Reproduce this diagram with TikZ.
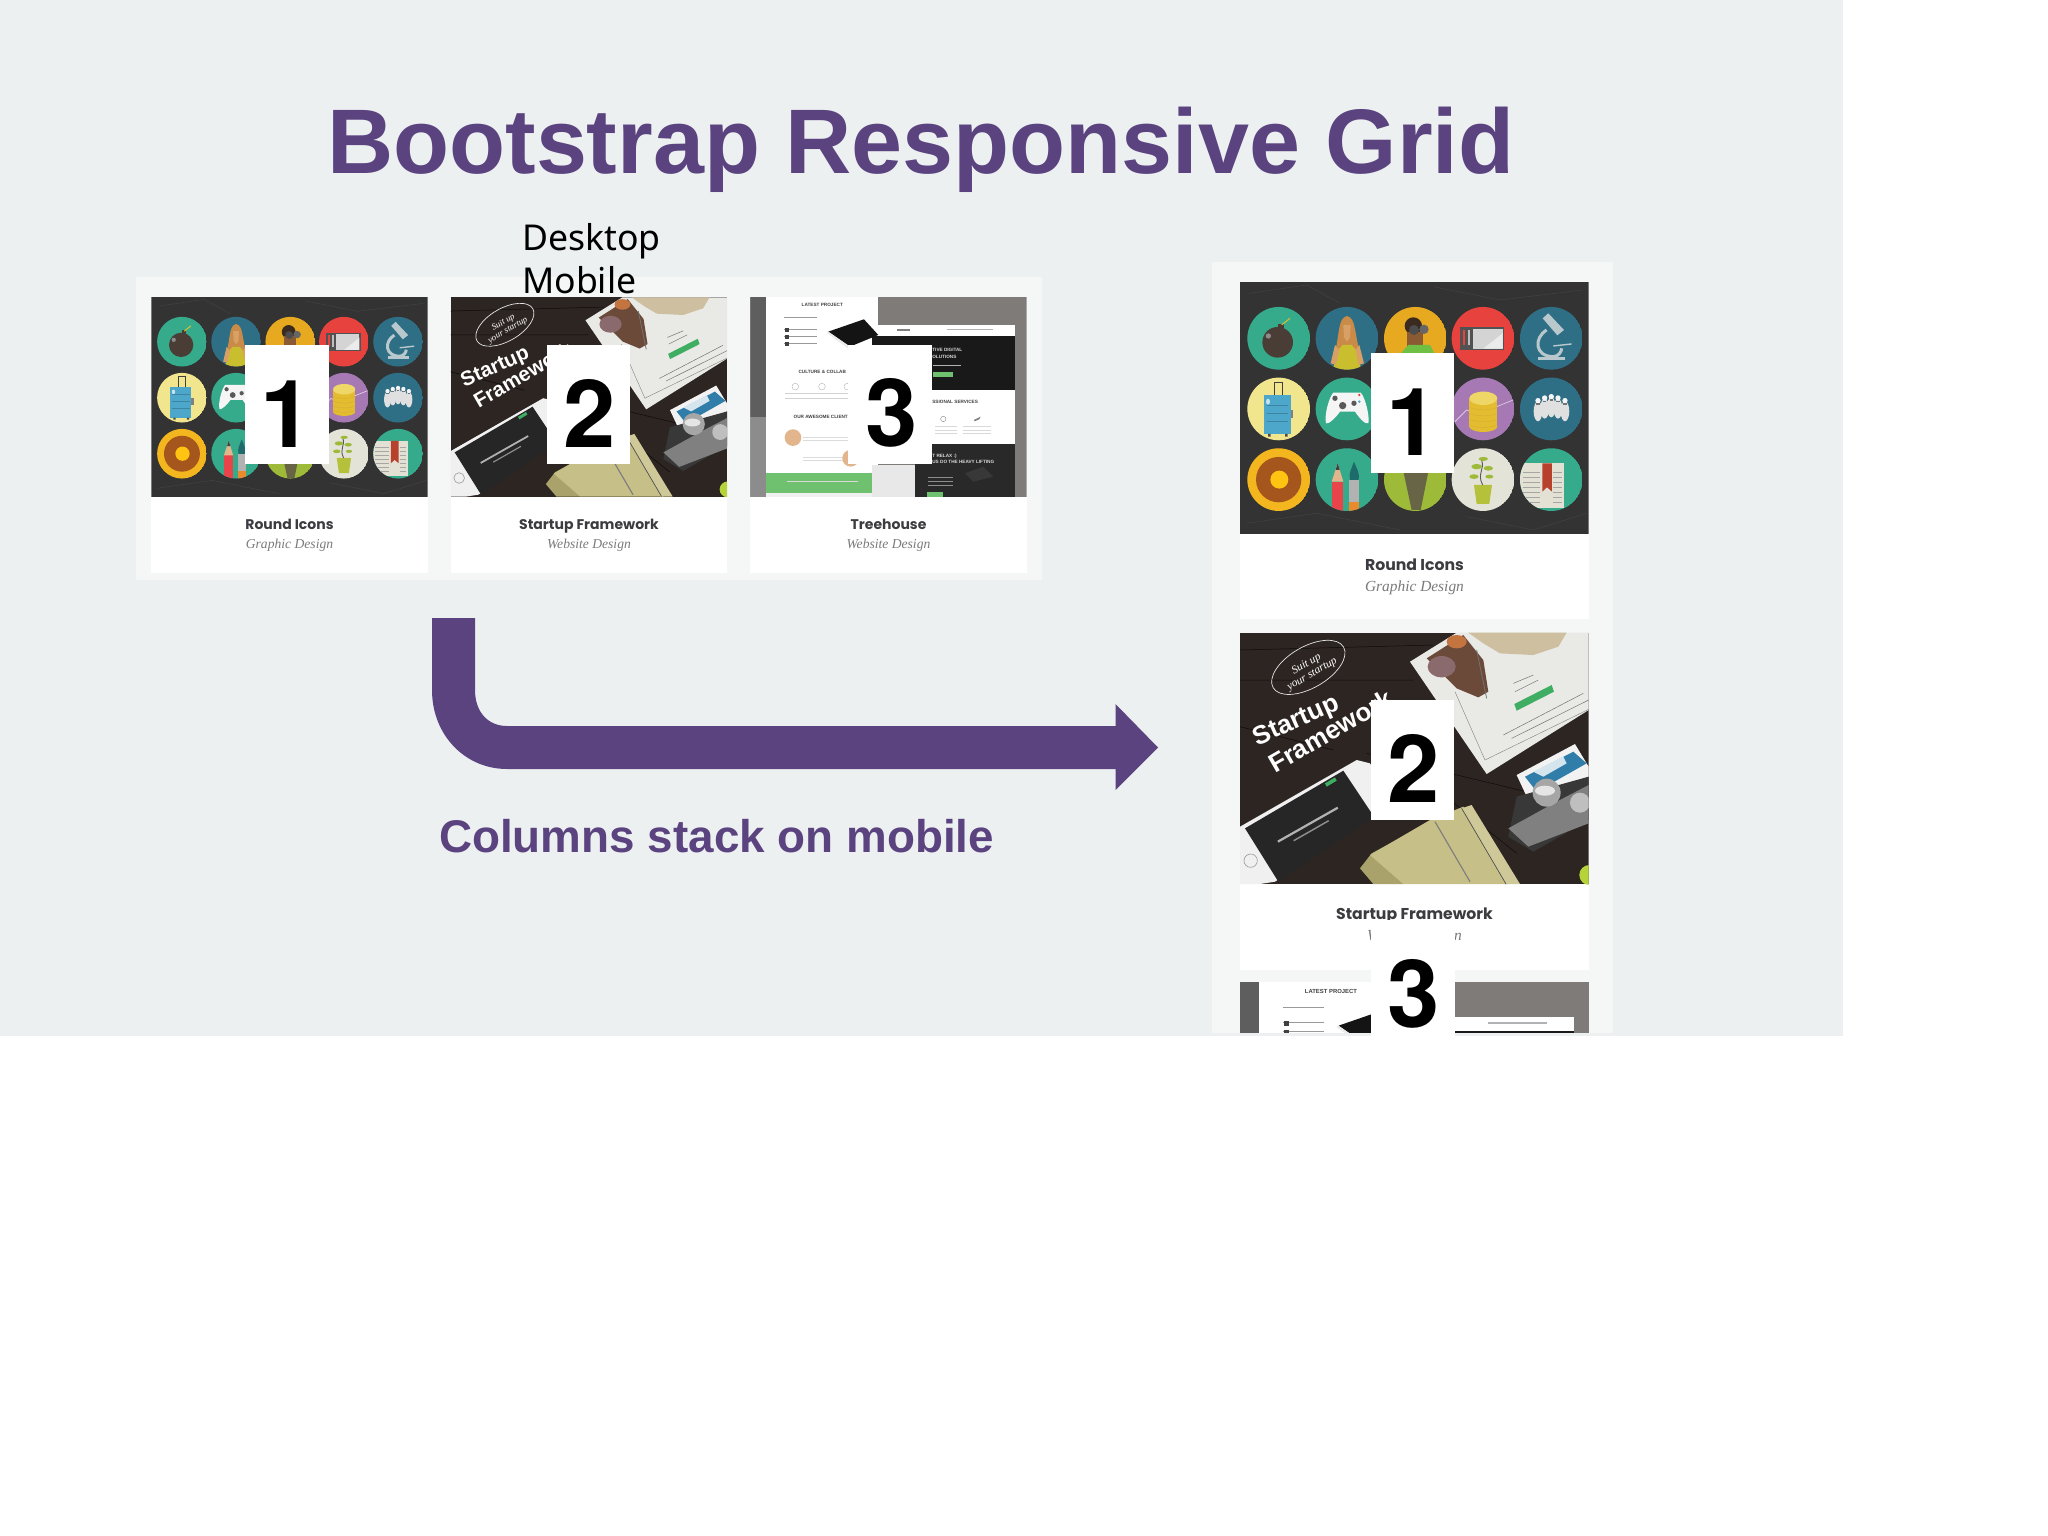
\documentclass[tikz,border=0pt]{standalone}
\usepackage{fontspec}
\setmainfont{Liberation Sans}
\newfontfamily\notof{Noto Sans}
\newfontfamily\popf{Poppins}
\newfontfamily\serf{Liberation Serif}
\newfontfamily\digf{TeX Gyre Heros}
\definecolor{slide}{HTML}{ECF0F1}
\definecolor{panelc}{HTML}{F5F7F7}
\definecolor{purp}{HTML}{5B4380}
\definecolor{teal1}{HTML}{2F6F86}
\definecolor{grn1}{HTML}{36AB8B}
\definecolor{ttl}{HTML}{3C3C40}
\definecolor{subt}{HTML}{7A7A7A}
\definecolor{tan1}{HTML}{C6BF87}
\definecolor{tan2}{HTML}{A9A36B}
\definecolor{wood}{HTML}{2D2522}
\definecolor{hairc}{HTML}{C98B47}
\definecolor{skinc}{HTML}{D9A066}
\definecolor{topy}{HTML}{C9BF2E}
\definecolor{bindisc}{HTML}{E6A920}
\definecolor{darkhead}{HTML}{3B2A20}
\definecolor{darkskin}{HTML}{8A5A33}
\definecolor{shirtc}{HTML}{6FBF44}
\definecolor{tabdisc}{HTML}{E8423F}
\definecolor{coindisc}{HTML}{A679B5}
\definecolor{suitdisc}{HTML}{F1E58E}
\definecolor{suitc}{HTML}{4CA7CB}
\definecolor{donutc}{HTML}{F3B61E}
\definecolor{ringc}{HTML}{A5561D}
\definecolor{innerc}{HTML}{FFC412}
\definecolor{leafd}{HTML}{9DBA38}
\definecolor{plantd}{HTML}{E4E3D8}
\definecolor{potc}{HTML}{B5C13B}
\definecolor{pagec}{HTML}{E3E1D4}
\definecolor{bkmark}{HTML}{B8412D}
\definecolor{goldc}{HTML}{E3BD2F}
\definecolor{goldt}{HTML}{EED766}
\definecolor{scopec}{HTML}{B9C8CC}
\definecolor{bombc}{HTML}{4A3D36}
\definecolor{pencilc}{HTML}{E9444A}
\definecolor{brushh}{HTML}{1F6B6B}
\definecolor{ferr}{HTML}{E98B2D}
\definecolor{tabw}{HTML}{E9E9E6}
\definecolor{foodc}{HTML}{6B4A3A}
\definecolor{sackc}{HTML}{CDBFA0}
\definecolor{garlicc}{HTML}{8A6A6D}
\definecolor{slicec}{HTML}{C4743F}
\definecolor{btnc}{HTML}{3FAE63}
\definecolor{blue1}{HTML}{2F7DA8}
\definecolor{limec}{HTML}{B7D33A}
\definecolor{treeg}{HTML}{7F7B78}
\definecolor{treeband}{HTML}{5F5E5E}
\definecolor{treegreen}{HTML}{6FC06F}
\definecolor{face1}{HTML}{E2B58C}
\tikzset{
  panelbox/.style={fill=panelc},
  cardbox/.style={fill=white},
  numbox/.style={fill=white,inner sep=0pt,minimum width=83.5pt,minimum height=119.5pt},
  digit/.style={anchor=base,inner sep=0pt,font=\digf\bfseries\fontsize{94}{94}\selectfont,text=black},
  purptext/.style={anchor=base west,inner sep=0pt,text=purp},
  plainlabel/.style={anchor=base west,inner sep=0pt,text=black,font=\notof\fontsize{35.6}{35.6}\selectfont},
  ttlS/.style={anchor=base,inner sep=0pt,text=ttl,font=\popf\bfseries\fontsize{14}{14}\selectfont},
  subS/.style={anchor=base,inner sep=0pt,text=subt,font=\serf\itshape\fontsize{13.6}{13.6}\selectfont},
  ttlL/.style={anchor=base,inner sep=0pt,text=ttl,font=\popf\bfseries\fontsize{15.7}{15.7}\selectfont},
  subL/.style={anchor=base,inner sep=0pt,text=subt,font=\serf\itshape\fontsize{15.4}{15.4}\selectfont},
  tinytext/.style={inner sep=0pt,text=#1,font=\bfseries\fontsize{14}{14}\selectfont},
  tinytext/.default=black!75
}
% #1 x, #2 y, #3 scale, #4 W, #5 H, #6 origin x, #7 origin y, #8 art
\newcommand\thumbimg[8]{%
  \begin{scope}[shift={(#1,#2)},scale=#3,every node/.append style={transform shape}]
    \clip (0,0) rectangle (#4,#5);
    \begin{scope}[shift={(-#6,-#7)}]
      #8
    \end{scope}
  \end{scope}}
\newcommand\disc[4]{% center x,y, colour, content
  \begin{scope}
    \clip (#1,#2) circle (94);
    \fill[#3] (#1,#2) circle (94);
    #4
  \end{scope}}
\newcommand\iconsart{%
  \fill[black!80] (120,97) rectangle (1166,852);
  \draw[black!74,line width=.5pt] (150,130) -- (320,105) -- (420,160) (700,110) -- (900,150) -- (1150,120) (140,820) -- (350,790) -- (600,840) (800,800) -- (1000,840) -- (1160,790);
  % row 1
  \disc{236}{265}{grn1}{%
    \fill[bombc] (233,277) circle (46);
    \fill[black!45] (205,258) circle (8);
    \fill[bombc] (235,222) rectangle (252,240);
    \draw[goldc,line width=1pt] (245,225) -- (270,205);}
  \disc{441}{265}{teal1}{%
    \fill[hairc] (441,198) .. controls (412,205) and (420,255) .. (403,312) -- (482,312) .. controls (462,255) and (470,205) .. (441,198);
    \fill[skinc] (430,225) -- (452,225) -- (450,262) -- (441,275) -- (432,262) -- cycle;
    \fill[topy] (410,305) -- (428,285) -- (455,285) -- (472,305) -- (485,365) -- (398,365) -- cycle;
    \fill[skinc] (392,340) -- (405,285) -- (418,300) -- (408,345) -- cycle;
    \fill[skinc] (492,340) -- (478,285) -- (466,300) -- (476,345) -- cycle;}
  \disc{646}{265}{bindisc}{%
    \fill[darkhead] (640,228) circle (26);
    \fill[darkskin] (622,245) rectangle (668,290);
    \fill[black!70] (642,240) circle (15);
    \fill[black!60] (672,238) circle (14);
    \fill[shirtc] (598,315) -- (625,285) -- (690,285) -- (705,315) -- cycle;}
  \disc{849}{265}{tabdisc}{%
    \fill[black!68] (780,232) rectangle (913,300);
    \fill[black!17] (818,236) rectangle (908,296);
    \fill[black!8] (850,296) -- (908,250) -- (908,296) -- cycle;
    \fill[tabdisc] (788,240) rectangle (796,285);
    \fill[black!25] (803,240) rectangle (811,285);}
  \disc{1054}{265}{teal1}{%
    \fill[scopec] (1028,205) -- (1045,190) -- (1092,240) -- (1072,256) -- cycle;
    \draw[scopec,line width=3pt] (1040,240) .. controls (1000,265) and (1005,320) .. (1060,320) .. controls (1075,320) and (1085,305) .. (1085,295);
    \draw[scopec,line width=1.4pt] (1060,288) -- (1115,282);
    \fill[scopec] (1015,320) rectangle (1095,331);}
  % row 2
  \disc{236}{477}{suitdisc}{%
    \draw[black!75,line width=1pt] (222,440) -- (222,398) -- (248,398) -- (248,440);
    \fill[suitc] (192,436) rectangle (272,552);
    \fill[black!70] (204,552) rectangle (212,560) (255,552) rectangle (263,560);
    \fill[white!70!suitc] (204,455) ellipse (6 and 9);
    \draw[suitc!80!black,line width=.4pt] (200,465) -- (265,465) (200,490) -- (265,490) (200,515) -- (265,515);
    \fill[black!50] (272,480) rectangle (280,505);}
  \disc{441}{477}{grn1}{%
    \fill[black!4] (400,428) -- (482,428) .. controls (495,440) and (510,500) .. (505,520) .. controls (495,525) and (475,500) .. (465,485) -- (420,485) .. controls (410,500) and (385,525) .. (378,520) .. controls (372,495) and (388,440) .. (400,428) -- cycle;
    \fill[black!65] (428,467) circle (11);
    \fill[black!65] (405,445) circle (8) (462,460) circle (8);
    \fill[tabdisc] (478,435) circle (4);
    \fill[suitc] (478,455) circle (4);}
  \disc{849}{477}{coindisc}{%
    \draw[white!70!coindisc,line width=.6pt] (765,515) -- (800,480) -- (840,495) -- (890,470) -- (940,450);
    \fill[goldc] (808,445) rectangle (892,530);
    \fill[goldc] (850,530) ellipse (42 and 16);
    \fill[goldt] (850,445) ellipse (42 and 20);
    \foreach \yy in {472,490,508,525}{\draw[goldc!70!brown,line width=.4pt] (808,\yy) .. controls (830,\yy+10) and (870,\yy+10) .. (892,\yy);}}
  \disc{1054}{477}{teal1}{%
    \foreach \xx/\yy in {1014/452,1034/444,1054/440,1074/444,1095/452}{\fill[black!12] (\xx,\yy+32) ellipse (13 and 30); \fill[black!4] (\xx,\yy) circle (8); \fill[black!55] (\xx-5,\yy+8) rectangle (\xx+5,\yy+12);}}
  % row 3
  \disc{236}{689}{donutc}{%
    \fill[ringc] (236,689) circle (68);
    \fill[innerc] (238,689) circle (27);}
  \disc{441}{689}{grn1}{%
    \fill[pencilc] (395,695) rectangle (430,790);
    \fill[face1] (395,695) -- (413,640) -- (430,695) -- cycle;
    \fill[black!75] (407,660) -- (413,640) -- (419,660) -- cycle;
    \fill[black!30] (448,690) rectangle (477,770);
    \fill[brushh] (450,690) .. controls (445,670) and (455,655) .. (462,635) .. controls (470,655) and (480,670) .. (476,690) -- cycle;
    \fill[ferr] (448,755) rectangle (478,790);}
  \disc{646}{689}{leafd}{%
    \fill[black!68!yellow] (605,640) -- (690,640) -- (662,780) -- (635,780) -- cycle;}
  \disc{849}{689}{plantd}{%
    \fill[potc] (822,705) -- (876,705) -- (868,762) -- (830,762) -- cycle;
    \draw[black!65,line width=.9pt] (848,705) .. controls (830,670) and (855,660) .. (845,630);
    \fill[leafd] (830,650) ellipse (16 and 8) (865,655) ellipse (14 and 7) (822,680) ellipse (14 and 7) (868,680) ellipse (12 and 6) (850,627) ellipse (14 and 6);}
  \disc{1054}{689}{grn1}{%
    \fill[pagec] (960,640) rectangle (1092,775);
    \foreach \yy in {665,680,695,710,725,740,755}{\fill[black!35] (968,\yy) rectangle (1020,\yy+3); \fill[black!35] (1060,\yy) rectangle (1085,\yy+3);}
    \fill[bkmark] (1027,640) -- (1056,640) -- (1056,725) -- (1041,712) -- (1027,725) -- cycle;}
}
\newcommand\startupart{%
  \fill[wood] (120,38) rectangle (1166,792);
  \draw[black!70!wood,line width=.5pt] (120,180) -- (640,180) (120,90) -- (700,75) (500,400) -- (1000,520) (120,320) -- (400,390) (600,420) -- (950,700);
  % oval
  \draw[white!90!black,line width=.7pt,rotate around={30:(325,142)}] (325,142) ellipse (122 and 62);
  \node[inner sep=0pt,text=white,align=center,rotate=30,font=\serf\itshape\fontsize{34}{34}\selectfont] (suitup) at (328,148) {Suit up\\your startup};
  % brand text
  \node[inner sep=0pt,text=white,anchor=base west,rotate=24,font=\bfseries\fontsize{78}{78}\selectfont] (fw1) at (172,378) {Startup};
  \node[inner sep=0pt,text=white,anchor=base west,rotate=30,font=\bfseries\fontsize{78}{78}\selectfont] (fw2) at (226,460) {Framework};
  % tablet
  \fill[tabw] (630,125) -- (770,38) -- (1166,38) -- (1166,270) -- (860,462) -- cycle;
  \fill[foodc] (680,115) -- (790,45) -- (850,120) -- (865,215) -- (835,232) -- (770,205) -- cycle;
  \fill[sackc] (805,38) -- (1100,38) -- (1075,80) -- (1000,105) -- (900,100) -- (850,70) -- cycle;
  \fill[garlicc] (725,140) ellipse (42 and 32);
  \fill[slicec] (770,65) ellipse (30 and 20);
  \draw[black!55,line width=.8pt] (830,90) -- (860,235);
  \fill[btnc] (943,252) -- (1055,195) -- (1062,215) -- (950,272) -- cycle;
  \draw[black!55,line width=.5pt] (910,345) -- (1150,220) (935,355) -- (1166,240) (940,190) -- (1000,165) (945,215) -- (1015,180);
  \draw[black!50,line width=.4pt] (765,215) -- (855,420) -- (1166,268);
  % photo
  \fill[black!5] (950,465) -- (1125,372) -- (1166,440) -- (1166,470) -- (985,540) -- cycle;
  \fill[blue1] (975,470) -- (1120,395) -- (1160,430) -- (1010,515) -- cycle;
  \fill[white!80!blue1] (1000,455) -- (1060,425) -- (1090,410) -- (1100,430) -- (1030,470) -- cycle;
  % camera
  \fill[black!78] (950,530) -- (1166,470) -- (1166,600) -- (1000,695) -- (925,650) -- cycle;
  \fill[black!50] (925,625) -- (1070,545) -- (1166,495) -- (1166,610) -- (985,680) -- cycle;
  \fill[black!35] (1040,518) circle (42);
  \fill[black!10] (1035,512) ellipse (30 and 15);
  \fill[black!25] (1140,548) circle (30);
  % phone
  \fill[black!6] (120,620) -- (470,420) -- (510,430) -- (578,545) -- (225,785) -- (180,792) -- (120,792) -- cycle;
  \fill[black!85] (135,625) -- (430,452) -- (522,590) -- (235,785) -- cycle;
  \draw[black!40,line width=.6pt] (152,722) circle (20);
  \fill[btnc] (375,490) -- (405,472) -- (410,482) -- (380,500) -- cycle;
  \fill[black!30] (232,662) -- (412,560) -- (415,566) -- (235,668) -- cycle;
  \fill[black!45] (280,660) -- (385,600) -- (387,604) -- (282,664) -- cycle;
  % notebook
  \fill[tan2] (480,745) -- (515,700) -- (700,600) -- (700,700) -- (610,792) -- (520,792) -- cycle;
  \fill[tan1] (510,705) -- (690,600) -- (790,560) -- (925,792) -- (610,792) -- cycle;
  \fill[tan1!85!white] (785,565) -- (815,555) -- (960,792) -- (915,792) -- cycle;
  \draw[black!70,line width=.7pt] (785,565) -- (918,792);
  \draw[black!50,line width=1.2pt] (705,605) -- (810,785);
  \fill[limec] (1168,765) circle (30);
}
\newcommand\treeart{%
  \fill[treeg] (451,262) rectangle (1280,862);
  \fill[treeband] (451,262) rectangle (497,620);
  \fill[black!45] (451,620) rectangle (497,862);
  \fill[white] (497,262) rectangle (835,790);
  \fill[treegreen] (497,790) rectangle (815,850);
  \fill[black!6] (497,850) rectangle (815,862);
  \fill[black!9] (815,765) rectangle (945,862);
  \fill[white] (815,345) rectangle (1245,378);
  \fill[black!90] (815,378) rectangle (1245,540);
  \fill[white] (815,540) rectangle (1245,703);
  \fill[black!84] (945,703) rectangle (1245,862);
  \fill[treegreen] (1000,485) rectangle (1060,502);
  \fill[treegreen] (980,845) rectangle (1028,862);
  % left page details
  \node[tinytext] (t1) at (667,284) {LATEST PROJECT};
  \node[tinytext] (t2) at (667,485) {CULTURE \& COLLAB};
  \node[tinytext] (t3) at (667,622) {OUR AWESOME CLIENTS};
  \foreach \yy in {320,356,378,400}{\fill[black!40] (553,\yy) rectangle (650,\yy+3);}
  \foreach \yy in {358,380,402}{\fill[black!75] (556,\yy-5) rectangle (568,\yy+7);}
  \foreach \yy in {550,565}{\fill[black!18] (555,\yy) rectangle (745,\yy+3);}
  \foreach \xx in {586,666,742}{\draw[black!30,line width=.4pt] (\xx,530) circle (10);}
  \foreach \yy in {680,690,740,750}{\fill[black!14] (610,\yy) rectangle (745,\yy+3);}
  \fill[face1] (579,683) circle (25);
  \fill[face1] (752,745) circle (25);
  \fill[black!92] (685,365) -- (792,328) -- (835,375) -- (750,410) -- cycle;
  \fill[black!8] (685,365) -- (750,410) -- (745,416) -- (680,368) -- cycle;
  \fill[black!15] (560,812) rectangle (775,815);
  % right page details
  \fill[black!50] (890,357) rectangle (930,362);
  \fill[black!30] (1040,357) rectangle (1180,360);
  \node[tinytext=white!85!black,anchor=west] (t4) at (997,421) {TIVE DIGITAL};
  \node[tinytext=white!85!black,anchor=west] (t5) at (997,442) {OLUTIONS};
  \node[tinytext=black!75,anchor=west] (t6) at (997,575) {SSIONAL SERVICES};
  \node[tinytext=white!85!black,anchor=west] (t7) at (997,740) {T RELAX :)};
  \node[tinytext=white!85!black,anchor=west] (t8) at (997,757) {US DO THE HEAVY LIFTING};
  \draw[black!50,line width=.4pt] (1030,627) circle (8);
  \fill[black!50] (1122,630) -- (1142,620) -- (1138,628) -- (1124,634) -- cycle;
  \foreach \yy in {648,660,670}{\fill[black!15] (1005,\yy) rectangle (1072,\yy+3); \fill[black!15] (1090,\yy) rectangle (1172,\yy+3);}
  \fill[black!30] (1000,465) rectangle (1082,468);
  \fill[black!78] (1095,790) -- (1150,770) -- (1180,800) -- (1120,815) -- cycle;
  \foreach \yy in {800,812,825}{\fill[black!45] (985,\yy) rectangle (1060,\yy+2);}
}
\begin{document}
\begin{tikzpicture}[x=1pt,y=-1pt]
\useasboundingbox (0,0) rectangle (2048,1536);
\fill[white] (0,0) rectangle (2048,1536);
\fill[slide] (0,0) rectangle (1843,1036);
% title
\node[anchor=base west,inner sep=0pt,text=purp,font=\bfseries\fontsize{91.7}{91.7}\selectfont] (title) at (327,174) {Bootstrap Responsive Grid};
% panels and cards
\fill[panelbox] (136,277) rectangle (1042,580);
\fill[panelbox] (1212,262) rectangle (1613,1033);
\fill[cardbox] (151.3,297.3) rectangle (427.7,573.3);
\fill[cardbox] (450.7,297.3) rectangle (727.3,573.3);
\fill[cardbox] (750.3,297.3) rectangle (1026.7,573.3);
\fill[cardbox] (1240,282.3) rectangle (1589,619.3);
\fill[cardbox] (1240,632.7) rectangle (1589,970);
\thumbimg{151.3}{297.3}{0.2642}{1046}{755}{120}{97}{\iconsart}
\thumbimg{450.7}{297.3}{0.2642}{1046}{754}{120}{38}{\startupart}
\thumbimg{750.3}{297.3}{0.3333}{829}{600}{451}{262}{\treeart}
\thumbimg{1240}{282.3}{0.3333}{1046}{755}{120}{97}{\iconsart}
\thumbimg{1240}{632.7}{0.3333}{1046}{754}{120}{38}{\startupart}
\thumbimg{1240}{982.3}{0.421}{829}{120}{451}{262}{\treeart}
% captions
\node[ttlS] (c1) at (289.5,529) {Round Icons};
\node[subS] (s1) at (289.5,548) {Graphic Design};
\node[ttlS] (c2) at (589,529) {Startup Framework};
\node[subS] (s2) at (589,548) {Website Design};
\node[ttlS] (c3) at (888.5,529) {Treehouse};
\node[subS] (s3) at (888.5,548) {Website Design};
\node[ttlL] (c4) at (1414.5,570) {Round Icons};
\node[subL] (s4) at (1414.5,591) {Graphic Design};
\node[ttlL] (c5) at (1414.5,919) {Startup Framework};
\node[subL] (s5) at (1414.5,940) {Website Design};
% plain labels
\node[plainlabel] (desk) at (522,250.5) {Desktop};
\node[plainlabel] (mob) at (522,293) {Mobile};
% arrow
\fill[purp] (432,618) -- (475,618) -- (475,690) .. controls (475,712) and (488,726) .. (507,726) -- (1115.5,726) -- (1115.5,704) -- (1158,747.5) -- (1115.5,790) -- (1115.5,769) -- (507,769) .. controls (465,769) and (432,735) .. (432,690) -- cycle;
\node[purptext,font=\bfseries\fontsize{45.8}{45.8}\selectfont] (cols) at (439,852) {Columns stack on mobile};
% number boxes
\node[numbox] (b1) at (287,404.7) {};
\node[numbox] (b2) at (588.7,404.7) {};
\node[numbox] (b3) at (890.2,404.7) {};
\node[digit] (d1) at (287,447) {1};
\node[digit] (d2) at (590,447) {2};
\node[digit] (d3) at (891.5,446) {3};
\node[numbox] (b4) at (1412.7,413) {};
\node[numbox] (b5) at (1412.7,760) {};
\fill[white] (1371,920) rectangle (1454.5,1036);
\node[digit] (d4) at (1412.7,455) {1};
\node[digit] (d5) at (1414,802) {2};
\node[digit] (d6) at (1414,1027) {3};
\end{tikzpicture}
\end{document}
